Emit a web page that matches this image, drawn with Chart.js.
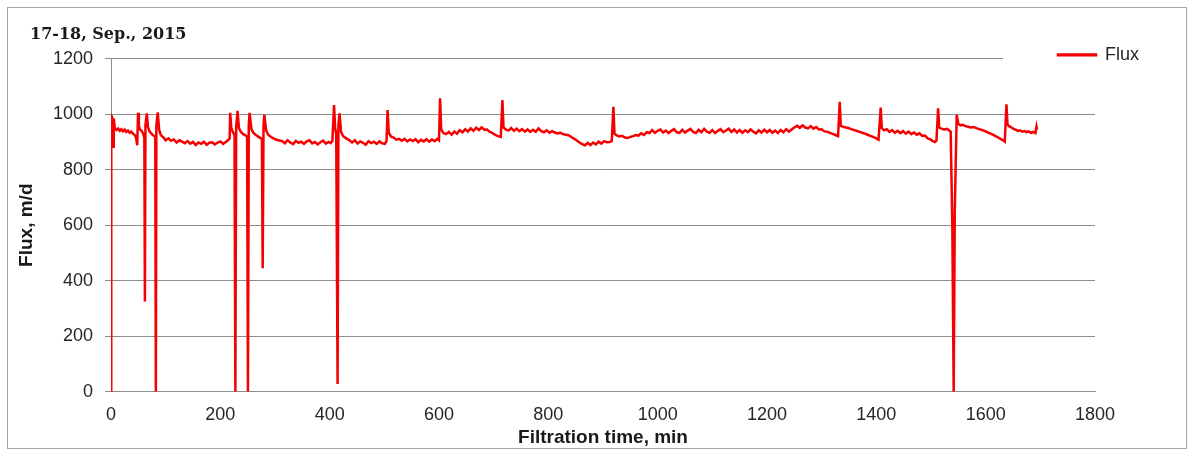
<!DOCTYPE html>
<html>
<head>
<meta charset="utf-8">
<script src="https://cdn.jsdelivr.net/npm/chart.js@4.4.1/dist/chart.umd.min.js"></script>
<style>
html,body{margin:0;padding:0;background:#fff;}
#wrap{position:relative;width:1194px;height:450px;overflow:hidden;background:#fff;}
#frame{position:absolute;left:7px;top:7px;width:1180px;height:442px;border:1px solid #a6a6a6;box-sizing:border-box;pointer-events:none;}
canvas{position:absolute;left:0;top:0;}
</style>
</head>
<body>
<div id="wrap"><div id="frame"></div><canvas id="c" width="1194" height="450"></canvas></div>
<script>
// ---- texts ----
const chartTitle = '17-18, Sep., 2015';
const seriesName = 'Flux';
const xAxisTitle = 'Filtration time, min';
const yAxisTitle = 'Flux, m/d';

// ---- tick labels ----
const xTickLabels = [0, 200, 400, 600, 800, 1000, 1200, 1400, 1600, 1800];
const yTickLabels = [0, 200, 400, 600, 800, 1000, 1200];

// ---- series: filtration time (min) ----
const timeMin = [
  0, 0.5, 2, 4, 5, 7, 10, 13, 16, 19,
  22, 25, 28, 31, 34, 37, 40, 43, 46, 48,
  49.5, 51, 53, 56, 59, 61, 62, 63, 65.5, 67.5,
  70, 73, 76, 79, 81, 82, 83, 85.5, 88, 91,
  95, 100, 105, 110, 115, 120, 125, 130, 135, 140,
  145, 150, 155, 160, 165, 170, 175, 180, 185, 190,
  195, 200, 205, 210, 214, 217,
  218, 220, 223, 226, 227.5, 229, 231.5, 234, 238, 242,
  246, 249, 250.5, 252, 253.5, 257, 261, 265, 269, 273,
  276, 277.5, 279, 280.5, 284, 288, 293, 298, 303, 308,
  313, 318, 323, 328, 333, 338, 343, 348, 353, 358,
  363, 368, 373, 378, 383, 388, 393, 398, 402, 405,
  408, 410, 412, 414.5, 416, 418, 421, 425, 431, 436,
  441, 446, 451, 456, 461, 466, 471, 476, 481, 486,
  491, 496, 501, 504,
  506, 508, 512, 517, 522, 527, 532, 537, 542, 547,
  552, 557, 562, 567, 572, 577, 582, 587, 592, 597,
  600, 602, 604, 608, 613, 618, 623, 628, 633, 638,
  643, 648, 653, 658, 663, 668, 673, 678, 683, 688,
  693, 698, 703, 708, 713,
  716, 718, 722, 727, 732, 737, 742, 747, 752, 757,
  762, 767, 772, 777, 782, 787, 792, 797, 802, 807,
  812, 817, 822, 827, 832, 837, 842, 847, 852, 857,
  862, 867, 872, 877, 882, 887, 892, 897, 902, 907,
  912, 916,
  919, 921, 925, 930, 935, 940, 945, 950, 955, 960,
  965, 970, 975, 980, 985, 990, 995, 1000, 1005, 1010,
  1015, 1020, 1025, 1030, 1035, 1040, 1045, 1050, 1055, 1060,
  1065, 1070, 1075, 1080, 1085, 1090, 1095, 1100, 1105, 1110,
  1115, 1120, 1125, 1130, 1135, 1140, 1145, 1150, 1155, 1160,
  1165, 1170, 1175, 1180, 1185, 1190, 1195, 1200, 1205, 1210,
  1215, 1220, 1225, 1230, 1235, 1240, 1245, 1250, 1255, 1260,
  1265, 1270, 1275, 1280, 1285, 1290, 1295, 1300, 1305, 1310,
  1315, 1320, 1325, 1330,
  1333, 1335, 1339, 1344, 1349, 1354, 1359, 1364, 1369, 1374,
  1379, 1384, 1389, 1394, 1399, 1404,
  1408, 1410, 1414, 1419, 1424, 1429, 1434, 1439, 1444, 1449,
  1454, 1459, 1464, 1469, 1474, 1479, 1484, 1489, 1494, 1499,
  1503, 1507, 1510,
  1513, 1515, 1519, 1524, 1529, 1533, 1536, 1539, 1541.5, 1543.5,
  1547, 1550, 1554, 1558, 1563, 1568, 1573, 1578, 1583, 1588,
  1593, 1598, 1603, 1608, 1613, 1618, 1623, 1628, 1632, 1635,
  1638, 1640, 1643, 1647, 1651, 1655, 1659, 1663, 1667, 1671,
  1675, 1679, 1683, 1687, 1691, 1693, 1694
];

// ---- series: flux (m/d) ----
const fluxMd = [
  0, 995, 990, 883, 985, 950, 943, 948, 940, 946,
  938, 944, 936, 941, 933, 937, 930, 926, 914, 888,
  1005, 960, 945, 940, 930, 915, 325, 960, 1003, 955,
  940, 932, 926, 921, 918, 0, 960, 1007, 945, 925,
  918, 906, 913, 904, 909, 898, 906, 901, 895, 903,
  894, 900, 889, 898, 893, 901, 890, 897, 899, 891,
  898, 902, 893, 900, 906, 912,
  1005, 950, 935, 925, 0, 955, 1012, 950, 935, 928,
  924, 918, 0, 960, 1005, 945, 932, 925, 920, 914,
  912, 445, 960, 998, 940, 925, 918, 912, 908, 905,
  903, 895, 906, 898, 892, 904, 897, 901, 893, 902,
  906, 895, 900, 891, 899, 905, 894, 900, 896, 904,
  1033, 950, 930, 28, 960, 1003, 935, 920, 912, 906,
  898, 906, 894, 902, 897, 890, 903, 896, 901, 893,
  902, 895, 893, 903,
  1015, 935, 920, 916, 908, 911, 904, 911, 902, 909,
  903, 910, 899, 908, 902, 910, 901, 909, 903, 911,
  906, 1057, 945, 932, 928, 936, 926, 938, 930, 942,
  935, 946, 938, 949, 940, 951, 943, 952, 944, 945,
  936, 932, 925, 921, 918,
  1051, 952, 945, 941, 950, 940, 948, 939, 946, 937,
  945, 936, 944, 937, 949, 939, 935, 942, 933, 939,
  934, 931, 933, 928, 926, 924, 918, 912, 905, 898,
  892, 888, 897, 889, 898, 891, 901, 894, 903, 899,
  900, 903,
  1027, 930, 924, 920, 922, 916, 914, 918, 921, 925,
  923, 931, 925, 935, 932, 943, 933, 940, 945, 934,
  941, 932, 940, 946, 935, 933, 944, 934, 941, 947,
  936, 932, 944, 935, 947, 937, 933, 943, 932, 940,
  946, 935, 941, 948, 936, 945, 934, 943, 933, 942,
  935, 945, 937, 931, 942, 934, 944, 935, 943, 933,
  941, 932, 943, 935, 946, 937, 945, 952, 958, 951,
  960, 952, 949, 957, 948, 954, 945, 946, 938, 937,
  933, 929, 925, 921,
  1045, 958, 955, 952, 950, 946, 943, 940, 937, 933,
  930, 926, 922, 918, 914, 908,
  1024, 950, 942, 946, 936, 943, 933, 940, 932, 939,
  930, 937, 928, 934, 926, 931, 922, 923, 913, 909,
  903, 900, 905,
  1021, 952, 948, 945, 947, 942, 937, 600, 0, 650,
  998, 965, 960, 962, 957, 955, 952, 954, 950, 946,
  943, 940, 935, 931, 926, 921, 916, 910, 905, 901,
  1036, 962, 957, 952, 947, 944, 940, 942, 937, 939,
  935, 938, 933, 936, 932, 955, 945
];

const lineColor = '#f50000';
const gridColor = '#8c8c8c';
const textColor = '#262626';

const legendPlacer = {
  id: 'legendPlacer',
  afterLayout(chart) {
    const lg = chart.legend;
    if (!lg) return;
    const w = lg.width, h = lg.height;
    lg.left = 1048; lg.right = lg.left + w;
    lg.top = 36; lg.bottom = lg.top + h;
  },
  afterDraw(chart) {
    // Excel legend box (white) hides the top gridline beneath it
    const ctx = chart.ctx;
    const yTop = chart.scales.y.getPixelForValue(yTickLabels[yTickLabels.length - 1]);
    const x0 = chart.legend.left - 45;
    ctx.save();
    ctx.fillStyle = '#ffffff';
    ctx.fillRect(x0, yTop - 2, chart.chartArea.right - x0 + 2, 4);
    ctx.restore();
  }
};

new Chart(document.getElementById('c'), {
  type: 'line',
  data: {
    datasets: [{
      label: seriesName,
      data: timeMin.map((t, i) => ({ x: t, y: fluxMd[i] })),
      borderColor: lineColor,
      backgroundColor: lineColor,
      borderWidth: 2.5,
      pointRadius: 0,
      tension: 0,
      fill: false
    }]
  },
  options: {
    responsive: false,
    animation: false,
    devicePixelRatio: 1,
    layout: { padding: { left: 30, right: 0, top: 0, bottom: 0 } },
    plugins: {
      title: {
        display: true,
        text: chartTitle,
        align: 'start',
        color: '#1a1a1a',
        font: { family: 'DejaVu Serif', weight: 'bold', size: 16, lineHeight: 1.2 },
        padding: { top: 25.5, bottom: 14.0 }
      },
      legend: {
        display: true,
        position: 'right',
        align: 'start',
        maxWidth: 99,
        labels: {
          boxWidth: 38,
          boxHeight: 1,
          padding: 10,
          color: textColor,
          font: { family: 'Liberation Sans', size: 18 }
        }
      },
      tooltip: { enabled: false }
    },
    scales: {
      x: {
        type: 'linear',
        min: xTickLabels[0],
        max: xTickLabels[xTickLabels.length - 1],
        afterBuildTicks(scale) { scale.ticks = xTickLabels.map(v => ({ value: v })); },
        grid: { display: false, drawTicks: false },
        border: { display: true, color: gridColor, width: 1 },
        ticks: { color: textColor, padding: 13, maxRotation: 0, font: { family: 'Liberation Sans', size: 18 },
                 callback: v => String(v) },
        title: {
          display: true, text: xAxisTitle, color: '#1a1a1a',
          font: { family: 'Liberation Sans', weight: 'bold', size: 19, lineHeight: 1.2 },
          padding: { top: 0, bottom: 0.6 }
        },
        afterFit(scale) { scale.height = 58.3; }
      },
      y: {
        type: 'linear',
        min: yTickLabels[0],
        max: yTickLabels[yTickLabels.length - 1],
        afterBuildTicks(scale) { scale.ticks = yTickLabels.map(v => ({ value: v })); },
        grid: { color: gridColor, lineWidth: 1, drawTicks: true, tickLength: 6, tickColor: gridColor },
        border: { display: true, color: gridColor, width: 1 },
        ticks: { color: textColor, padding: 12, font: { family: 'Liberation Sans', size: 18 },
                 callback: v => String(v) },
        title: {
          display: true, text: yAxisTitle, color: '#1a1a1a',
          font: { family: 'Liberation Sans', weight: 'bold', size: 19, lineHeight: 1.2 },
          padding: { top: -14.4, bottom: 0 }
        },
        afterFit(scale) { scale.width = 81; }
      }
    }
  },
  plugins: [legendPlacer]
});
</script>
</body>
</html>
